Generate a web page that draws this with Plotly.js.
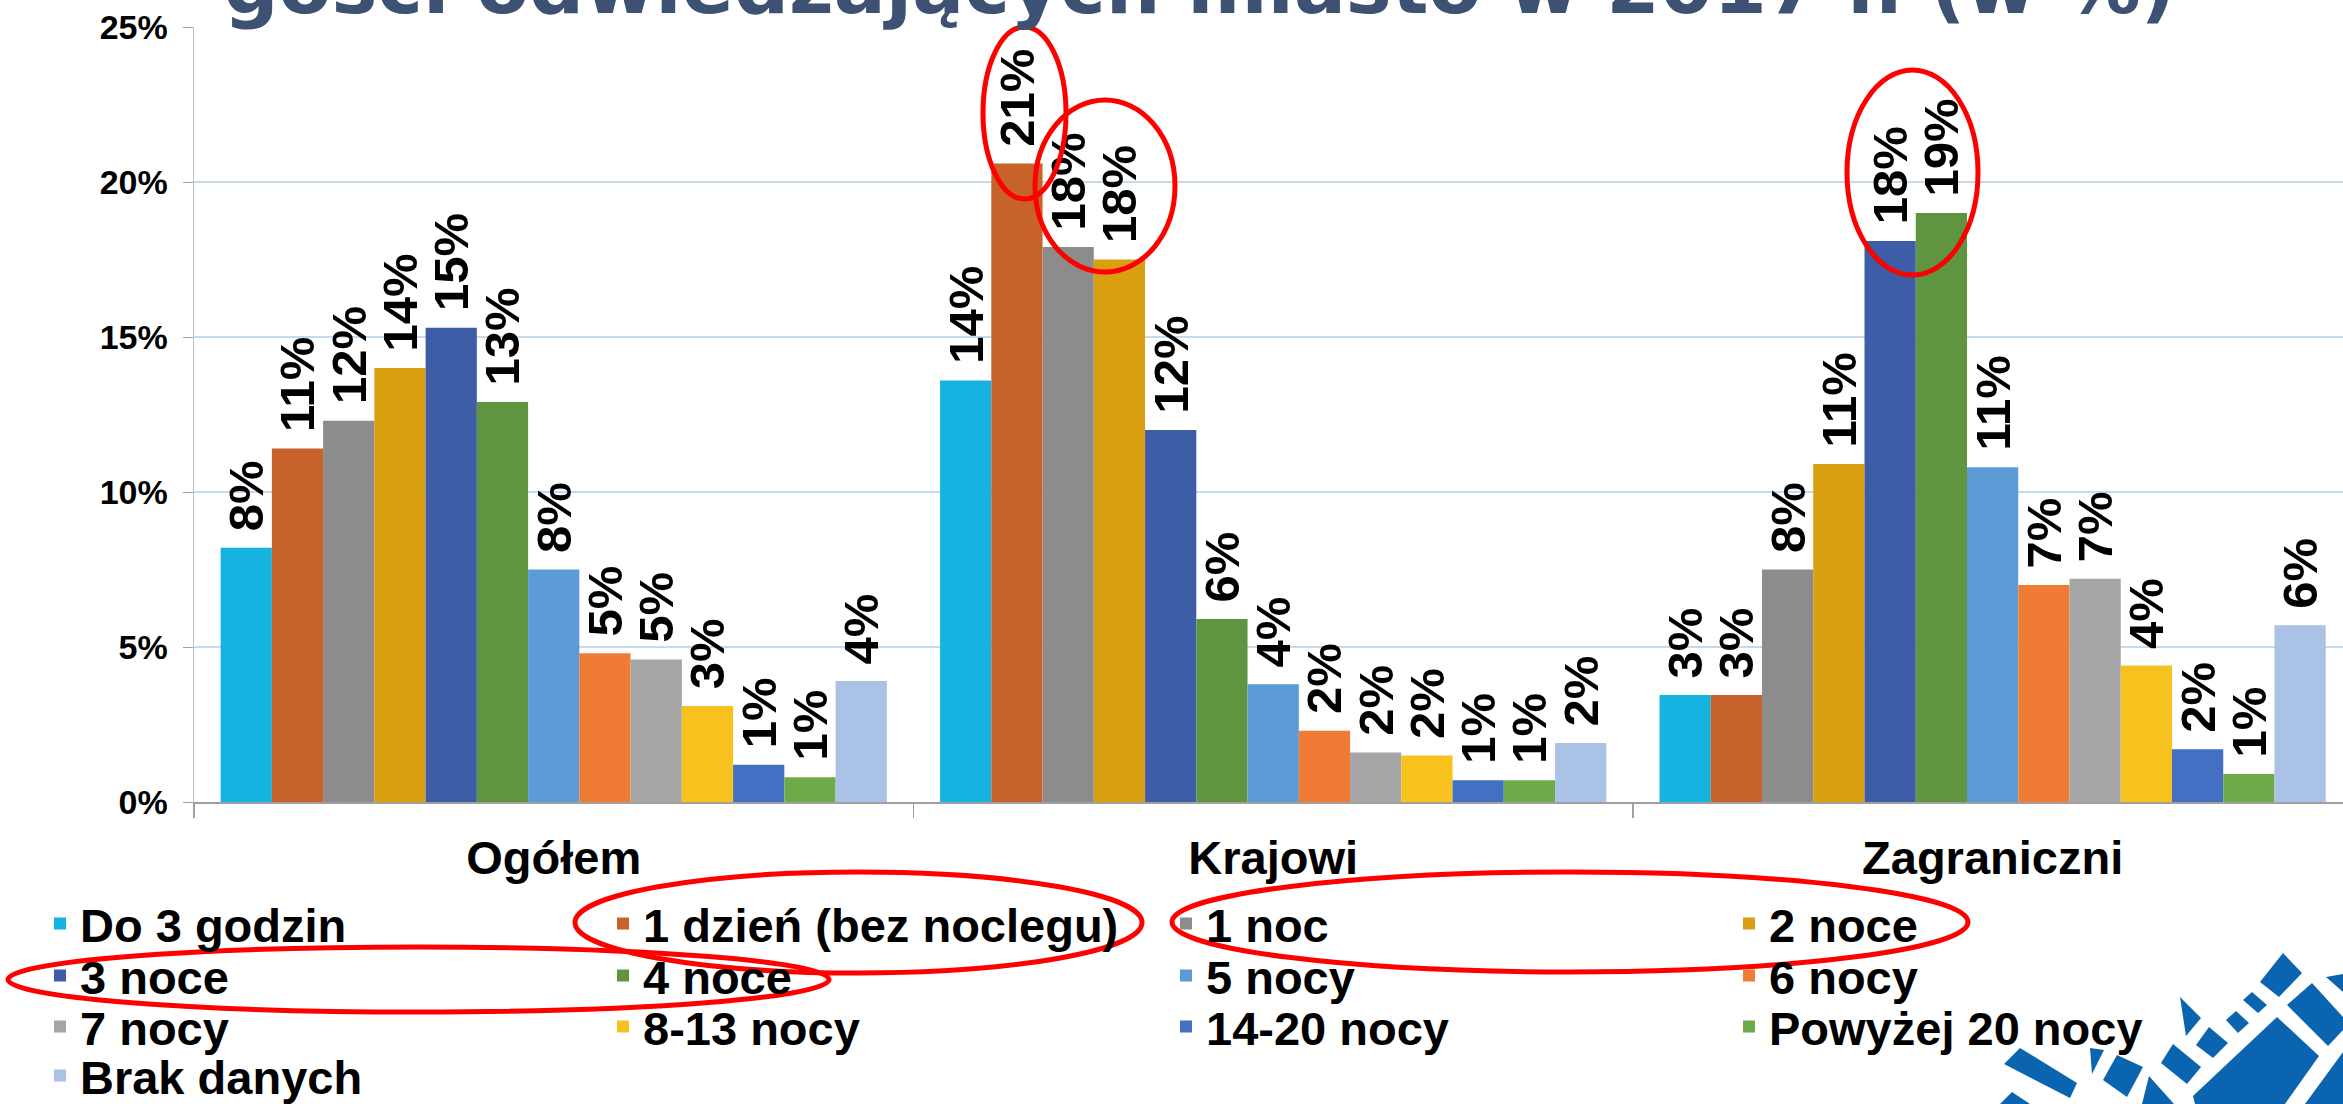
<!DOCTYPE html>
<html><head><meta charset="utf-8">
<script src="https://cdn.plot.ly/plotly-3.0.1.min.js"></script>
<style>html,body{margin:0;padding:0;background:#fff;overflow:hidden;} #chart{width:2343px;height:1104px;}</style>
</head><body><div id="chart"></div>
<script>
// ---- data ----
const categories = ['Ogółem', 'Krajowi', 'Zagraniczni'];
const seriesNames = ['Do 3 godzin', '1 dzień (bez noclegu)', '1 noc', '2 noce', '3 noce', '4 noce',
  '5 nocy', '6 nocy', '7 nocy', '8-13 nocy', '14-20 nocy', 'Powyżej 20 nocy', 'Brak danych'];
const do3Godzin    = [8.2, 13.6, 3.45];
const jedenDzien   = [11.4, 20.6, 3.45];
const jednaNoc     = [12.3, 17.9, 7.5];
const dwieNoce     = [14.0, 17.5, 10.9];
const trzyNoce     = [15.3, 12.0, 18.1];
const czteryNoce   = [12.9, 5.9, 19.0];
const piecNocy     = [7.5, 3.8, 10.8];
const szescNocy    = [4.8, 2.3, 7.0];
const siedemNocy   = [4.6, 1.6, 7.2];
const nocy8do13    = [3.1, 1.5, 4.4];
const nocy14do20   = [1.2, 0.7, 1.7];
const powyzej20    = [0.8, 0.7, 0.9];
const brakDanych   = [3.9, 1.9, 5.7];
const seriesValues = [do3Godzin, jedenDzien, jednaNoc, dwieNoce, trzyNoce, czteryNoce,
  piecNocy, szescNocy, siedemNocy, nocy8do13, nocy14do20, powyzej20, brakDanych];
const yTickVals = [0, 5, 10, 15, 20, 25];
const yTickText = yTickVals.map(v => v + '%');
const titleText = 'gości odwiedzających miasto w 2017 r. (w %)';

// ---- styles ----
const colors = ['#16B3E0', '#C8622B', '#8C8C8C', '#D8A011', '#3D5DA6', '#5F9540',
  '#5B9BD6', '#EF7B34', '#A6A6A6', '#F8C21E', '#4470C4', '#6FAA48', '#A9C2E5'];
const FONT = 'Liberation Sans, Arial, sans-serif';

// plot-area geometry in pixels (for decoration placement)
const L = 194, R = 2343, T = 27, B = 802;
const PW = R - L, PH = B - T;
const pxX = x => (x - L) / PW;
const pxY = y => (B - y) / PH;

const traces = seriesNames.map((name, i) => ({
  type: 'bar',
  name: name,
  x: categories,
  y: seriesValues[i],
  marker: {color: colors[i], line: {width: 0}},
  texttemplate: '\u00A0%{y:.0f}%',
  textposition: 'outside',
  textangle: -90,
  constraintext: 'none',
  cliponaxis: false,
  textfont: {family: FONT, size: 49, weight: 'bold', color: '#000'},
  legend: i < 4 ? 'legend' : i < 8 ? 'legend2' : i < 12 ? 'legend3' : 'legend4',
  hoverinfo: 'x+y+name'
}));

const rowCenters = [924, 976, 1027, 1076];
function legendRow(k) {
  return {
    orientation: 'h', x: pxX(40), xanchor: 'left', y: pxY(rowCenters[k]), yanchor: 'middle',
    entrywidth: 518, entrywidthmode: 'pixels', bgcolor: 'rgba(0,0,0,0)', borderwidth: 0,
    font: {family: FONT, size: 47, weight: 'bold', color: '#000'}, traceorder: 'normal'
  };
}

// red highlight ellipses (decoration drawn on the original slide)
const highlights = [[983, 27, 1066, 199], [1035, 100, 1175, 272], [1847, 70, 1978, 275],
  [575, 872, 1142, 973], [8, 947, 829, 1012], [1172, 872, 1968, 972]];
// logo tiles (decoration)
const logoTiles = [
  [[2283,953],[2302,973],[2279,997],[2260,982]],
  [[2287,1005],[2312,983],[2343,1017],[2343,1030],[2328,1046]],
  [[2326,977],[2343,974],[2343,992]],
  [[2277,1017],[2319,1056],[2285,1104],[2195,1104],[2193,1096]],
  [[2343,1052],[2343,1104],[2305,1104]],
  [[2243,1000],[2252,992],[2267,1005],[2258,1013]],
  [[2226,1020],[2236,1011],[2249,1023],[2238,1033]],
  [[2196,1045],[2209,1027],[2228,1043],[2213,1058]],
  [[2180,997],[2201,1018],[2186,1036]],
  [[2161,1063],[2173,1044],[2201,1067],[2187,1084]],
  [[2103,1080],[2117,1055],[2143,1067],[2127,1097]],
  [[2004,1064],[2020,1048],[2077,1083],[2070,1098]],
  [[2090,1048],[2104,1050],[2092,1074]],
  [[2149,1076],[2174,1104],[2142,1104]],
  [[2000,1104],[2012,1092],[2030,1104]]
];

const shapes = [];
logoTiles.forEach(poly => {
  const d = poly.map((p, j) => (j ? 'L' : 'M') + pxX(p[0]).toFixed(5) + ',' + pxY(p[1]).toFixed(5)).join(' ') + ' Z';
  shapes.push({type: 'path', xref: 'paper', yref: 'paper', path: d, fillcolor: '#0A64B0', line: {width: 0}, layer: 'above'});
});
highlights.forEach(h => {
  shapes.push({type: 'circle', xref: 'paper', yref: 'paper', x0: pxX(h[0]), x1: pxX(h[2]), y0: pxY(h[3]), y1: pxY(h[1]),
    line: {color: '#FF0000', width: 5}, fillcolor: 'rgba(0,0,0,0)', layer: 'above'});
});

const layout = {
  width: 2343, height: 1104,
  margin: {l: L, r: 0, t: T, b: 1104 - B, autoexpand: false},
  paper_bgcolor: '#fff', plot_bgcolor: '#fff',
  font: {family: FONT, color: '#000'},
  barmode: 'group', bargap: 0.074, bargroupgap: 0,
  title: {text: titleText, xref: 'container', x: 0.512, xanchor: 'center', yref: 'container',
    y: 1 - 13 / 1104, yanchor: 'bottom', font: {family: 'DejaVu Sans', size: 77, weight: 'bold', color: '#3D5173'}},
  xaxis: {
    range: [-0.5, 2.487], tickson: 'boundaries', ticks: 'outside', ticklen: 14, tickcolor: '#A0A0A0', tickwidth: 1.5,
    showline: true, linecolor: '#A0A0A0', linewidth: 2, showgrid: false, ticklabelstandoff: 14,
    tickfont: {family: FONT, size: 47, weight: 'bold', color: '#000'}
  },
  yaxis: {
    range: [0, 25], tickmode: 'array', tickvals: yTickVals, ticktext: yTickText, ticks: 'outside', ticklen: 10, tickcolor: '#A0A0A0',
    showline: true, linecolor: '#BFBFBF', linewidth: 1.5, zeroline: false,
    showgrid: true, gridcolor: '#C6DAEE', gridwidth: 1.5, ticklabelstandoff: 8,
    tickfont: {family: FONT, size: 34, weight: 'bold', color: '#000'}
  },
  legend: legendRow(0), legend2: legendRow(1), legend3: legendRow(2), legend4: legendRow(3),
  shapes: shapes
};

Plotly.newPlot('chart', traces, layout, {displayModeBar: false, staticPlot: true});
</script>
</body></html>
